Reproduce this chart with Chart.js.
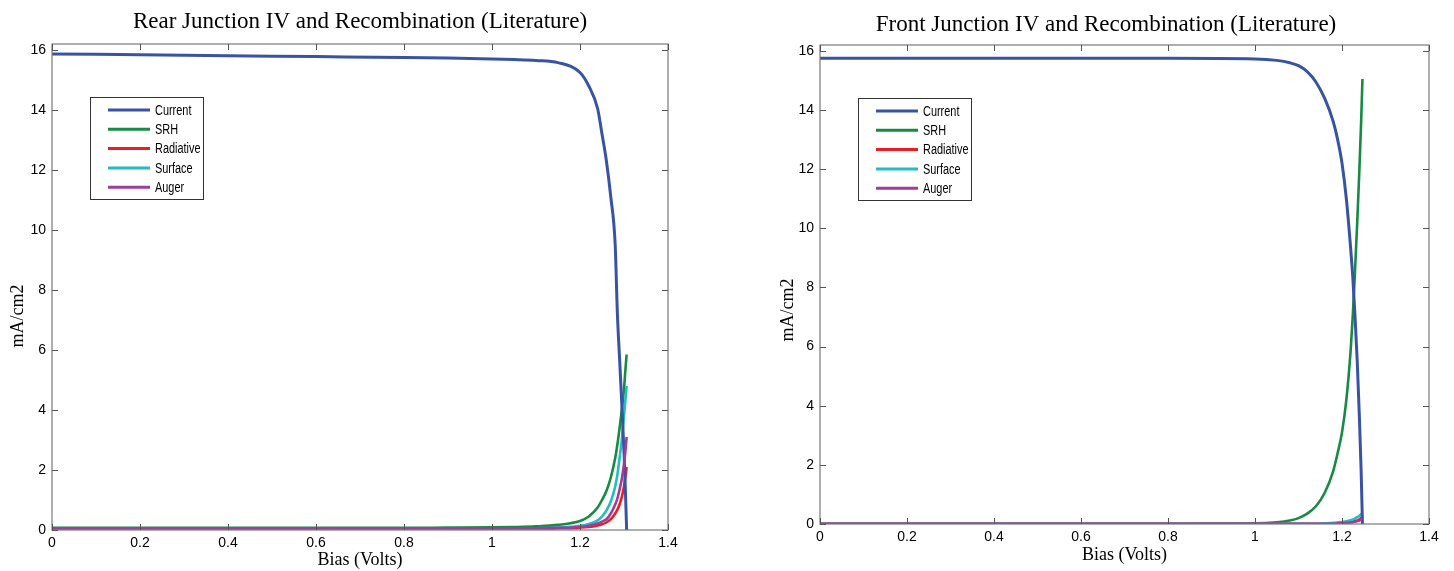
<!DOCTYPE html>
<html>
<head>
<meta charset="utf-8">
<script src="https://cdn.jsdelivr.net/npm/chart.js@4.4.1/dist/chart.umd.min.js"></script>
<style>
    body { margin: 0; background: #fff; }
    .panel { position: absolute; top: 0; }
</style>
</head>
<body>
<div class="panel" style="left:0px"><canvas id="rear-chart" width="720" height="571"></canvas></div>
<div class="panel" style="left:760px"><canvas id="front-chart" width="694" height="571"></canvas></div>
<script>
const seriesNames = ['Current', 'SRH', 'Radiative', 'Surface', 'Auger'];
const seriesColors = ['#3953a4', '#178a43', '#ec1c24', '#22bdc2', '#9c3e9c'];
const xTicks = [0, 0.2, 0.4, 0.6, 0.8, 1, 1.2, 1.4];
const yTicks = [0, 2, 4, 6, 8, 10, 12, 14, 16];

// rear junction (V)
const rearBias = [0, 0.2, 0.4, 0.6, 0.8, 0.9, 1.0, 1.05, 1.1, 1.15, 1.2, 1.22, 1.24, 1.25, 1.26, 1.27, 1.28, 1.285, 1.29, 1.295, 1.3, 1.303, 1.306];
const rearCurrent = [15.87, 15.84, 15.81, 15.78, 15.75, 15.73, 15.70, 15.68, 15.65, 15.58, 15.25, 14.8, 14.05, 13.2, 12.3, 11.1, 9.5, 7.2, 5.7, 4.2, 2.6, 1.4, 0];
const rearSRH = [0.07, 0.07, 0.07, 0.07, 0.07, 0.08, 0.09, 0.10, 0.12, 0.17, 0.3, 0.45, 0.75, 1.0, 1.3, 1.75, 2.4, 2.85, 3.4, 4.0, 4.7, 5.3, 5.85];
const rearRadiative = [0.05, 0.05, 0.05, 0.05, 0.05, 0.05, 0.05, 0.05, 0.05, 0.06, 0.08, 0.1, 0.15, 0.19, 0.25, 0.36, 0.55, 0.68, 0.85, 1.1, 1.45, 1.75, 2.1];
const rearSurface = [0.05, 0.05, 0.05, 0.05, 0.05, 0.05, 0.05, 0.05, 0.06, 0.08, 0.14, 0.2, 0.32, 0.45, 0.65, 0.95, 1.45, 1.85, 2.4, 3.0, 3.8, 4.3, 4.8];
const rearAuger = [0.06, 0.06, 0.06, 0.06, 0.06, 0.06, 0.06, 0.06, 0.06, 0.07, 0.1, 0.14, 0.22, 0.28, 0.36, 0.55, 0.85, 1.05, 1.35, 1.7, 2.2, 2.6, 3.1];

// front junction (V)
const frontBias = [0, 0.2, 0.4, 0.6, 0.8, 1.0, 1.05, 1.08, 1.1, 1.12, 1.14, 1.16, 1.18, 1.19, 1.2, 1.21, 1.22, 1.225, 1.23, 1.235, 1.24, 1.244, 1.247];
const frontCurrent = [15.75, 15.75, 15.75, 15.75, 15.75, 15.73, 15.68, 15.6, 15.5, 15.3, 14.95, 14.4, 13.6, 13.0, 12.2, 11.0, 9.3, 8.3, 7.0, 5.5, 3.6, 1.8, 0];
const frontSRH = [0.01, 0.01, 0.01, 0.01, 0.01, 0.02, 0.06, 0.12, 0.2, 0.35, 0.6, 1.05, 1.8, 2.4, 3.1, 4.2, 5.9, 7.1, 8.6, 10.2, 12.0, 13.6, 15.05];
const frontRadiative = [0.01, 0.01, 0.01, 0.01, 0.01, 0.01, 0.01, 0.01, 0.01, 0.01, 0.01, 0.01, 0.02, 0.03, 0.04, 0.05, 0.07, 0.08, 0.1, 0.12, 0.16, 0.2, 0.25];
const frontSurface = [0.01, 0.01, 0.01, 0.01, 0.01, 0.01, 0.01, 0.01, 0.01, 0.01, 0.01, 0.02, 0.04, 0.05, 0.07, 0.09, 0.13, 0.15, 0.19, 0.23, 0.28, 0.33, 0.38];
const frontAuger = [0.01, 0.01, 0.01, 0.01, 0.01, 0.01, 0.01, 0.01, 0.01, 0.01, 0.01, 0.01, 0.01, 0.02, 0.03, 0.04, 0.05, 0.06, 0.08, 0.1, 0.12, 0.15, 0.18];

const serif = '"Liberation Serif", "Times New Roman", serif';
const sans = '"Liberation Sans", Arial, sans-serif';

// matlab-ish box with inward ticks on all four sides
const boxPlugin = {
    id: 'box',
    afterDatasetsDraw(chart) {
        const { ctx, chartArea: a, scales } = chart;
        ctx.save();
        ctx.strokeStyle = '#7a7a7a';
        ctx.lineWidth = 1.2;
        ctx.strokeRect(a.left, a.top, a.right - a.left, a.bottom - a.top);
        ctx.strokeStyle = '#555';
        ctx.lineWidth = 1;
        ctx.beginPath();
        xTicks.forEach(v => {
            const x = Math.round(scales.x.getPixelForValue(v)) + 0.5;
            ctx.moveTo(x, a.bottom); ctx.lineTo(x, a.bottom - 6);
            ctx.moveTo(x, a.top); ctx.lineTo(x, a.top + 6);
        });
        yTicks.forEach(v => {
            const y = Math.round(scales.y.getPixelForValue(v)) + 0.5;
            ctx.moveTo(a.left, y); ctx.lineTo(a.left + 6, y);
            ctx.moveTo(a.right, y); ctx.lineTo(a.right - 6, y);
        });
        ctx.stroke();
        ctx.restore();
    }
};

// plot title and the rotated y label
const titlesPlugin = {
    id: 'titles',
    afterDraw(chart, args, o) {
        const ctx = chart.ctx;
        ctx.save();
        ctx.fillStyle = '#000';
        ctx.textAlign = 'center';
        ctx.textBaseline = 'middle';
        ctx.font = '23px ' + serif;
        ctx.fillText(o.text, o.titleX, o.titleY);
        ctx.font = '18px ' + serif;
        ctx.translate(o.yLabelX, o.yLabelY);
        ctx.rotate(-Math.PI / 2);
        ctx.fillText('mA/cm2', 0, 0);
        ctx.restore();
    }
};

const legendPlugin = {
    id: 'boxLegend',
    afterDraw(chart) {
        const { ctx, chartArea: a } = chart;
        const x0 = a.left + 38, y0 = a.top + 53;
        ctx.save();
        ctx.fillStyle = '#fff';
        ctx.fillRect(x0, y0, 113, 102);
        ctx.strokeStyle = '#333';
        ctx.lineWidth = 1;
        ctx.strokeRect(x0 + 0.5, y0 + 0.5, 113, 102);
        ctx.font = '14px ' + sans;
        ctx.textBaseline = 'middle';
        chart.data.datasets.forEach((ds, i) => {
            const y = y0 + 13 + i * 19.3;
            ctx.strokeStyle = ds.borderColor;
            ctx.lineWidth = 3;
            ctx.beginPath();
            ctx.moveTo(x0 + 18, y);
            ctx.lineTo(x0 + 60, y);
            ctx.stroke();
            ctx.fillStyle = '#000';
            // narrow face like the original legend lettering
            ctx.save();
            ctx.translate(x0 + 65, y + 1);
            ctx.scale(0.78, 1);
            ctx.fillText(ds.label, 0, 0);
            ctx.restore();
        });
        ctx.restore();
    }
};

function makeChart(id, title, bias, series, opts) {
    const datasets = series.map((vals, i) => ({
        label: seriesNames[i],
        data: bias.map((b, j) => ({ x: b, y: vals[j] })),
        borderColor: seriesColors[i],
        borderWidth: i === 0 ? 3 : 2.6,
        pointRadius: 0,
        cubicInterpolationMode: 'monotone',
        order: i === 4 ? 0 : (i === 0 ? 1 : 6 - i)
    }));
    return new Chart(document.getElementById(id), {
        type: 'line',
        data: { datasets },
        plugins: [boxPlugin, legendPlugin, titlesPlugin],
        options: {
            responsive: false,
            animation: false,
            devicePixelRatio: 1,
            layout: { padding: { left: 0, right: opts.padRight, top: opts.padTop, bottom: 0 } },
            plugins: {
                legend: { display: false },
                tooltip: { enabled: false },
                title: { display: false },
                titles: {
                    text: title,
                    titleX: opts.titleX,
                    titleY: opts.titleY,
                    yLabelX: opts.yLabelX,
                    yLabelY: opts.yLabelY
                }
            },
            scales: {
                x: {
                    type: 'linear',
                    min: 0,
                    max: 1.4,
                    afterFit: s => { s.height = opts.xHeight; },
                    afterBuildTicks: s => { s.ticks = xTicks.map(v => ({ value: v })); },
                    grid: { display: false, drawTicks: false },
                    border: { display: false },
                    ticks: {
                        padding: 5,
                        color: '#000',
                        font: { family: sans, size: 14 },
                        maxRotation: 0,
                        callback: v => String(+v.toFixed(1))
                    },
                    title: {
                        display: true,
                        text: 'Bias (Volts)',
                        color: '#000',
                        font: { family: serif, size: 18 },
                        padding: { top: 0, bottom: opts.xTitleBottom }
                    }
                },
                y: {
                    min: 0,
                    max: 16.2,
                    afterFit: s => { s.width = opts.yWidth; },
                    afterBuildTicks: s => { s.ticks = yTicks.map(v => ({ value: v })); },
                    grid: { display: false, drawTicks: false },
                    border: { display: false },
                    ticks: {
                        padding: 6,
                        color: '#000',
                        font: { family: sans, size: 14 }
                    }
                }
            }
        }
    });
}

makeChart('rear-chart', 'Rear Junction IV and Recombination (Literature)', rearBias,
    [rearCurrent, rearSRH, rearRadiative, rearSurface, rearAuger],
    { padRight: 52, padTop: 44, titleX: 360, titleY: 22, xHeight: 41, xTitleBottom: 0,
      yWidth: 52, yLabelX: 18, yLabelY: 316 });

makeChart('front-chart', 'Front Junction IV and Recombination (Literature)', frontBias,
    [frontCurrent, frontSRH, frontRadiative, frontSurface, frontAuger],
    { padRight: 25, padTop: 45, titleX: 346, titleY: 25, xHeight: 47, xTitleBottom: 5,
      yWidth: 60, yLabelX: 28, yLabelY: 310 });
</script>
</body>
</html>
